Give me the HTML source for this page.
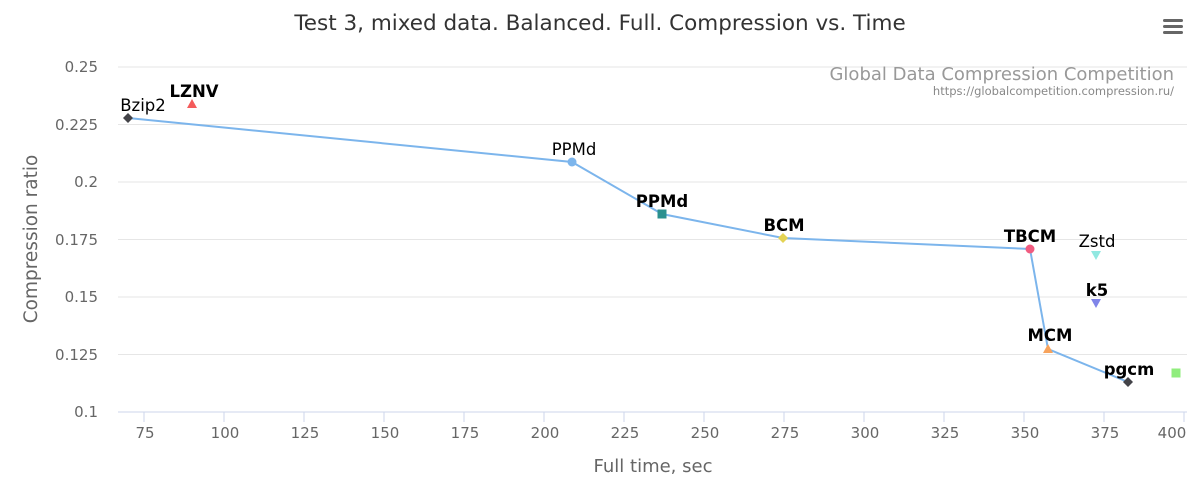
<!DOCTYPE html>
<html><head><meta charset="utf-8"><style>
body{margin:0;background:#fff;}
svg{display:block;font-family:"DejaVu Sans","Liberation Sans",sans-serif;}
</style></head><body>
<svg width="1200" height="500" viewBox="0 0 1200 500">
<rect width="1200" height="500" fill="#fff"/>
<text x="600" y="30" text-anchor="middle" font-size="21.5" fill="#333">Test 3, mixed data. Balanced. Full. Compression vs. Time</text>
<g fill="#666"><rect x="1163" y="19" width="20" height="3" rx="1.5"/><rect x="1163" y="25" width="20" height="3" rx="1.5"/><rect x="1163" y="31" width="20" height="3" rx="1.5"/></g>
<g stroke="#e6e6e6" stroke-width="1">
<line x1="118" x2="1187" y1="67" y2="67"/>
<line x1="118" x2="1187" y1="124.5" y2="124.5"/>
<line x1="118" x2="1187" y1="182" y2="182"/>
<line x1="118" x2="1187" y1="239.5" y2="239.5"/>
<line x1="118" x2="1187" y1="297" y2="297"/>
<line x1="118" x2="1187" y1="354.5" y2="354.5"/>
</g>
<line x1="118" x2="1187" y1="412" y2="412" stroke="#ccd6eb"/>
<g stroke="#ccd6eb">
<line x1="144" x2="144" y1="412" y2="422"/><line x1="224" x2="224" y1="412" y2="422"/><line x1="304" x2="304" y1="412" y2="422"/><line x1="384" x2="384" y1="412" y2="422"/><line x1="464" x2="464" y1="412" y2="422"/><line x1="544" x2="544" y1="412" y2="422"/><line x1="624" x2="624" y1="412" y2="422"/><line x1="704" x2="704" y1="412" y2="422"/><line x1="784" x2="784" y1="412" y2="422"/><line x1="864" x2="864" y1="412" y2="422"/><line x1="944" x2="944" y1="412" y2="422"/><line x1="1024" x2="1024" y1="412" y2="422"/><line x1="1104" x2="1104" y1="412" y2="422"/><line x1="1184" x2="1184" y1="412" y2="422"/>
</g>
<g font-size="15" fill="#666" text-anchor="middle">
<text x="145" y="438">75</text><text x="225" y="438">100</text><text x="305" y="438">125</text><text x="385" y="438">150</text><text x="465" y="438">175</text><text x="545" y="438">200</text><text x="625" y="438">225</text><text x="705" y="438">250</text><text x="785" y="438">275</text><text x="865" y="438">300</text><text x="945" y="438">325</text><text x="1025" y="438">350</text><text x="1105" y="438">375</text><text x="1172" y="438">400</text>
</g>
<g font-size="15" fill="#666" text-anchor="end">
<text x="98" y="72">0.25</text><text x="98" y="130">0.225</text><text x="98" y="187">0.2</text><text x="98" y="245">0.175</text><text x="98" y="302">0.15</text><text x="98" y="360">0.125</text><text x="98" y="417">0.1</text>
</g>
<text x="653" y="472" text-anchor="middle" font-size="18" fill="#666">Full time, sec</text>
<text transform="translate(37,239) rotate(-90)" text-anchor="middle" font-size="18.5" fill="#666">Compression ratio</text>
<text x="1174" y="80" text-anchor="end" font-size="18" fill="#999">Global Data Compression Competition</text>
<text x="1174" y="95" text-anchor="end" font-size="11.5" fill="#888">https://globalcompetition.compression.ru/</text>
<polyline points="128,118 572,162 662,214 783,238 1030,249 1048,349 1128,382" fill="none" stroke="#7cb5ec" stroke-width="2"/>
<path d="M128,113 L133,118 L128,123 L123,118Z" fill="#434348"/>
<path d="M192,99 L197,108 L187,108Z" fill="#f45b5b"/>
<circle cx="572" cy="162" r="4.5" fill="#7cb5ec"/>
<rect x="657.5" y="209.5" width="9" height="9" fill="#2b908f"/>
<path d="M783,233 L788,238 L783,243 L778,238Z" fill="#e4d354"/>
<circle cx="1030" cy="249" r="4.5" fill="#f15c80"/>
<path d="M1091,251 L1101,251 L1096,260Z" fill="#91e8e1"/>
<path d="M1091,299 L1101,299 L1096,308Z" fill="#8085e9"/>
<path d="M1048,344 L1053,353 L1043,353Z" fill="#f7a35c"/>
<path d="M1128,377 L1133,382 L1128,387 L1123,382Z" fill="#434348"/>
<rect x="1171.5" y="368.5" width="9" height="9" fill="#90ed7d"/>
<g font-size="16.5" fill="#000" text-anchor="middle">
<text x="143" y="111">Bzip2</text>
<text x="194" y="97" font-weight="bold">LZNV</text>
<text x="574" y="155">PPMd</text>
<text x="662" y="207" font-weight="bold">PPMd</text>
<text x="784" y="231" font-weight="bold">BCM</text>
<text x="1030" y="242" font-weight="bold">TBCM</text>
<text x="1097" y="247">Zstd</text>
<text x="1097" y="296" font-weight="bold">k5</text>
<text x="1050" y="341" font-weight="bold">MCM</text>
<text x="1129" y="375" font-weight="bold">pgcm</text>
</g>
</svg>
</body></html>
